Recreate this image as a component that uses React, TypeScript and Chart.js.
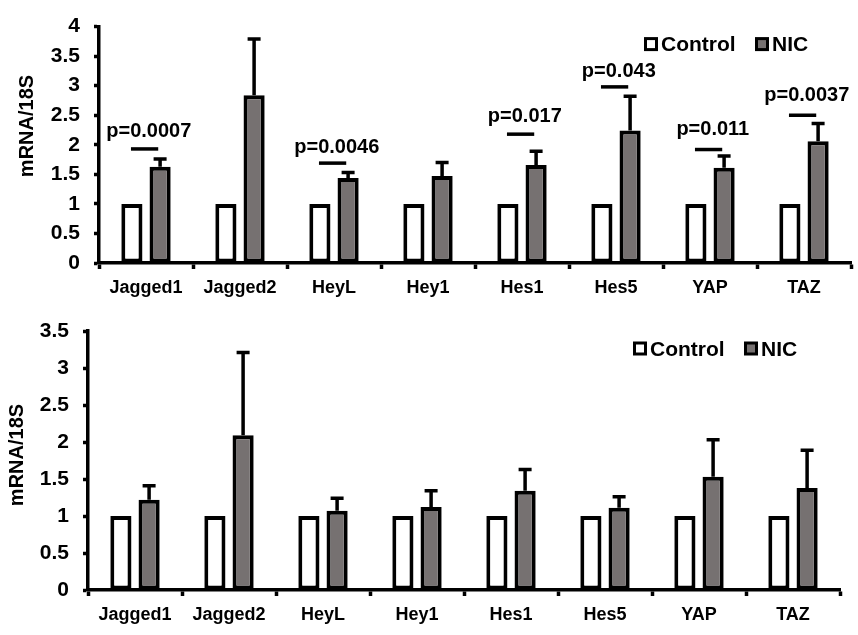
import React, { useEffect, useRef } from "react";
import { Chart, registerables } from "chart.js";

Chart.register(...registerables);

const categories = ["Jagged1", "Jagged2", "HeyL", "Hey1", "Hes1", "Hes5", "YAP", "TAZ"];
const seriesNames = ["Control", "NIC"];

const topControl = [1, 1, 1, 1, 1, 1, 1, 1];
const topNIC = [1.63, 2.84, 1.44, 1.47, 1.66, 2.24, 1.61, 2.06];
const topNICErr = [0.13, 0.95, 0.09, 0.23, 0.23, 0.58, 0.2, 0.3];
const topYTicks = [0, 0.5, 1, 1.5, 2, 2.5, 3, 3.5, 4];

const bottomControl = [1, 1, 1, 1, 1, 1, 1, 1];
const bottomNIC = [1.22, 2.09, 1.07, 1.12, 1.34, 1.11, 1.53, 1.38];
const bottomNICErr = [0.19, 1.12, 0.17, 0.22, 0.29, 0.15, 0.5, 0.51];
const bottomYTicks = [0, 0.5, 1, 1.5, 2, 2.5, 3, 3.5];

const pLabels = ["p=0.0007", "", "p=0.0046", "", "p=0.017", "p=0.043", "p=0.011", "p=0.0037"];
const pLineY = [1.93, null, 1.69, null, 2.18, 2.98, 1.92, 2.5];
const pTextY = [2.13, null, 1.86, null, 2.39, 3.15, 2.16, 2.74];

const yTitle = "mRNA/18S";

const FONT = "'Liberation Sans', Arial, sans-serif";
const GRAY = "#767171";

type Geom = { width: number; height: number; left: number; right: number; top: number; bottom: number; titleX: number; titleY: number };

function makeChart(
  canvas: HTMLCanvasElement,
  control: number[],
  nic: number[],
  err: number[],
  yTicks: number[],
  g: Geom,
  withP: boolean
) {
  const yMax = yTicks[yTicks.length - 1];

  const errorBars = {
    id: "errorBars",
    afterDatasetsDraw(chart: any) {
      const ctx = chart.ctx;
      const ys = chart.scales.y;
      const meta = chart.getDatasetMeta(1);
      ctx.save();
      ctx.strokeStyle = "#000";
      ctx.lineWidth = 3.5;
      meta.data.forEach((bar: any, i: number) => {
        const x = bar.x;
        const y0 = ys.getPixelForValue(nic[i]);
        const y1 = ys.getPixelForValue(nic[i] + err[i]);
        ctx.beginPath();
        ctx.moveTo(x, y0);
        ctx.lineTo(x, y1);
        ctx.moveTo(x - 6.5, y1);
        ctx.lineTo(x + 6.5, y1);
        ctx.stroke();
      });
      ctx.restore();
    },
  };

  const annotations = {
    id: "annotations",
    afterDraw(chart: any) {
      const ctx = chart.ctx;
      const xs = chart.scales.x;
      const ys = chart.scales.y;
      const area = chart.chartArea;
      ctx.save();
      ctx.fillStyle = "#000";
      ctx.font = `bold 20px ${FONT}`;
      ctx.textAlign = "center";
      ctx.textBaseline = "middle";
      ctx.translate(g.titleX, g.titleY);
      ctx.rotate(-Math.PI / 2);
      ctx.fillText(yTitle, 0, 0);
      ctx.restore();

      ctx.save();
      ctx.font = `bold 21px ${FONT}`;
      ctx.textBaseline = "middle";
      ctx.textAlign = "left";
      const ly = area.top + 18;
      const items = [
        { box: area.right - 207, text: area.right - 190, fill: "#ffffff" },
        { box: area.right - 96, text: area.right - 79, fill: GRAY },
      ];
      items.forEach((it, k) => {
        ctx.fillStyle = it.fill;
        ctx.fillRect(it.box + 1.5, ly - 6, 11, 11);
        ctx.strokeStyle = "#000";
        ctx.lineWidth = 3;
        ctx.strokeRect(it.box + 1.5, ly - 6, 11, 11);
        ctx.fillStyle = "#000";
        ctx.fillText(seriesNames[k], it.text, ly + 1);
      });
      ctx.restore();

      if (withP) {
        ctx.save();
        ctx.fillStyle = "#000";
        ctx.strokeStyle = "#000";
        ctx.lineWidth = 3.5;
        ctx.font = `bold 20px ${FONT}`;
        ctx.textAlign = "center";
        ctx.textBaseline = "alphabetic";
        const w = xs.getPixelForValue(1) - xs.getPixelForValue(0);
        pLabels.forEach((lab, i) => {
          if (!lab) return;
          const c = xs.getPixelForValue(i);
          const yl = ys.getPixelForValue(pLineY[i] as number);
          const yt = ys.getPixelForValue(pTextY[i] as number);
          ctx.beginPath();
          ctx.moveTo(c - 0.16 * w, yl);
          ctx.lineTo(c + 0.13 * w, yl);
          ctx.stroke();
          ctx.fillText(lab, c + 0.03 * w, yt);
        });
        ctx.restore();
      }
    },
  };

  return new Chart(canvas, {
    type: "bar",
    data: {
      labels: categories,
      datasets: [
        {
          label: seriesNames[0],
          data: control,
          backgroundColor: "#ffffff",
          borderColor: "#000",
          borderWidth: 4,
          borderSkipped: false,
          categoryPercentage: 0.6,
          barPercentage: 0.75,
        },
        {
          label: seriesNames[1],
          data: nic,
          backgroundColor: GRAY,
          borderColor: "#000",
          borderWidth: 4,
          borderSkipped: false,
          categoryPercentage: 0.6,
          barPercentage: 0.75,
        },
      ],
    },
    options: {
      responsive: false,
      animation: false,
      devicePixelRatio: 1,
      layout: { padding: { left: 0, top: g.top, right: g.width - g.right, bottom: 0 } },
      plugins: { legend: { display: false }, tooltip: { enabled: false } },
      scales: {
        x: {
          z: 1,
          offset: true,
          grid: { offset: true, drawOnChartArea: false, drawTicks: true, tickLength: 6, tickColor: "#000", tickWidth: 3.5 },
          border: { display: true, color: "#000", width: 3.5 },
          ticks: { color: "#000", font: { family: FONT, size: 18, weight: "bold" }, padding: 8, maxRotation: 0, autoSkip: false },
          afterFit(s: any) {
            s.height = g.height - g.bottom;
          },
        },
        y: {
          z: 1,
          min: 0,
          max: yMax,
          grid: { drawOnChartArea: false, drawTicks: true, tickLength: 5, tickColor: "#000", tickWidth: 3.5 },
          border: { display: true, color: "#000", width: 3.5 },
          ticks: {
            color: "#000",
            font: { family: FONT, size: 21, weight: "bold" },
            padding: 14,
            callback: (v: any) => String(v),
          },
          afterBuildTicks(s: any) {
            s.ticks = yTicks.map((v) => ({ value: v }));
          },
          afterFit(s: any) {
            s.width = g.left;
          },
        },
      },
    },
    plugins: [errorBars, annotations],
  } as any);
}

export default function App() {
  const topRef = useRef<HTMLCanvasElement>(null);
  const botRef = useRef<HTMLCanvasElement>(null);

  useEffect(() => {
    const c1 = makeChart(
      topRef.current!,
      topControl,
      topNIC,
      topNICErr,
      topYTicks,
      { width: 858, height: 300, left: 99, right: 851, top: 15, bottom: 263, titleX: 27, titleY: 126 },
      true
    );
    const c2 = makeChart(
      botRef.current!,
      bottomControl,
      bottomNIC,
      bottomNICErr,
      bottomYTicks,
      { width: 858, height: 335, left: 88, right: 840, top: 31, bottom: 290, titleX: 17, titleY: 155 },
      false
    );
    return () => {
      c1.destroy();
      c2.destroy();
    };
  }, []);

  return (
    <div style={{ position: "absolute", left: 0, top: 0, width: 858, height: 635, background: "#fff" }}>
      <canvas ref={topRef} width={858} height={300} style={{ position: "absolute", left: 0, top: 0 }} />
      <canvas ref={botRef} width={858} height={335} style={{ position: "absolute", left: 0, top: 300 }} />
    </div>
  );
}
